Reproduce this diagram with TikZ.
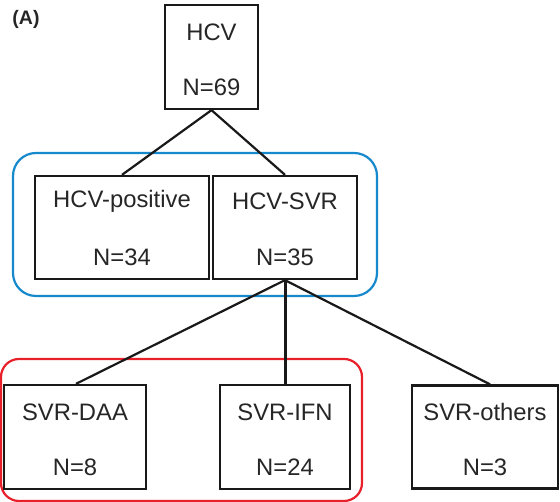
\documentclass[tikz,border=0pt]{standalone}
\usepackage{fontspec}
\setmainfont{Liberation Sans}
\definecolor{grpblue}{RGB}{22,136,204}
\definecolor{grpred}{RGB}{232,32,42}
\begin{document}
\begin{tikzpicture}[x=1pt,y=1pt,
  box/.style={draw=black!90, line width=2.3pt, fill=white, inner sep=0pt},
  lbl/.style={font=\fontsize{23.8}{28}\selectfont, text=black!85, inner sep=0pt},
  conn/.style={draw=black!90, line width=2.2pt},
  grp/.style={line width=2.2pt, rounded corners=#1}]
\useasboundingbox (0,0) rectangle (560,502);
% group outlines
\draw[grp=23pt, draw=grpblue] (13,349) rectangle (377,206);
\draw[grp=18pt, draw=grpred] (1,143) rectangle (362,1);
% boxes
\node[box, minimum width=93pt, minimum height=104pt] (hcv) at (211.5,445) {};
\node[box, minimum width=174pt, minimum height=103pt] (pos) at (122,274.5) {};
\node[box, minimum width=144pt, minimum height=103pt] (svr) at (285,274.5) {};
\node[box, minimum width=142pt, minimum height=104pt] (daa) at (75,65) {};
\node[box, minimum width=130pt, minimum height=104pt] (ifn) at (285,65) {};
\node[box, minimum width=146pt, minimum height=103pt] (oth) at (485,65) {};
% connectors
\draw[conn] (hcv.south) -- (pos.north);
\draw[conn] (hcv.south) -- (svr.north);
\draw[conn] (svr.south) -- ([xshift=1pt]daa.north);
\draw[conn, line width=3pt] (svr.south) -- (ifn.north);
\draw[conn] (svr.south) -- ([xshift=5pt]oth.north);
% labels
\node[lbl] (hcvt) at (211.5,470) {HCV};
\node[lbl] (hcvn) at (211.5,415) {N=69};
\node[lbl] (post) at (122,301) {HCV-positive};
\node[lbl] (posn) at (122,245) {N=34};
\node[lbl] (svrt) at (285,301) {HCV-SVR};
\node[lbl] (svrn) at (285,245) {N=35};
\node[lbl] (daat) at (75,90) {SVR-DAA};
\node[lbl] (daan) at (75,35) {N=8};
\node[lbl] (ifnt) at (285,90) {SVR-IFN};
\node[lbl] (ifnn) at (285,35) {N=24};
\node[lbl] (otht) at (485,90) {SVR-others};
\node[lbl] (othn) at (485,35) {N=3};
\node[font=\fontsize{19.5}{23}\selectfont\bfseries, text=black!85, inner sep=0pt] (tag) at (26,483) {(A)};
\end{tikzpicture}
\end{document}
